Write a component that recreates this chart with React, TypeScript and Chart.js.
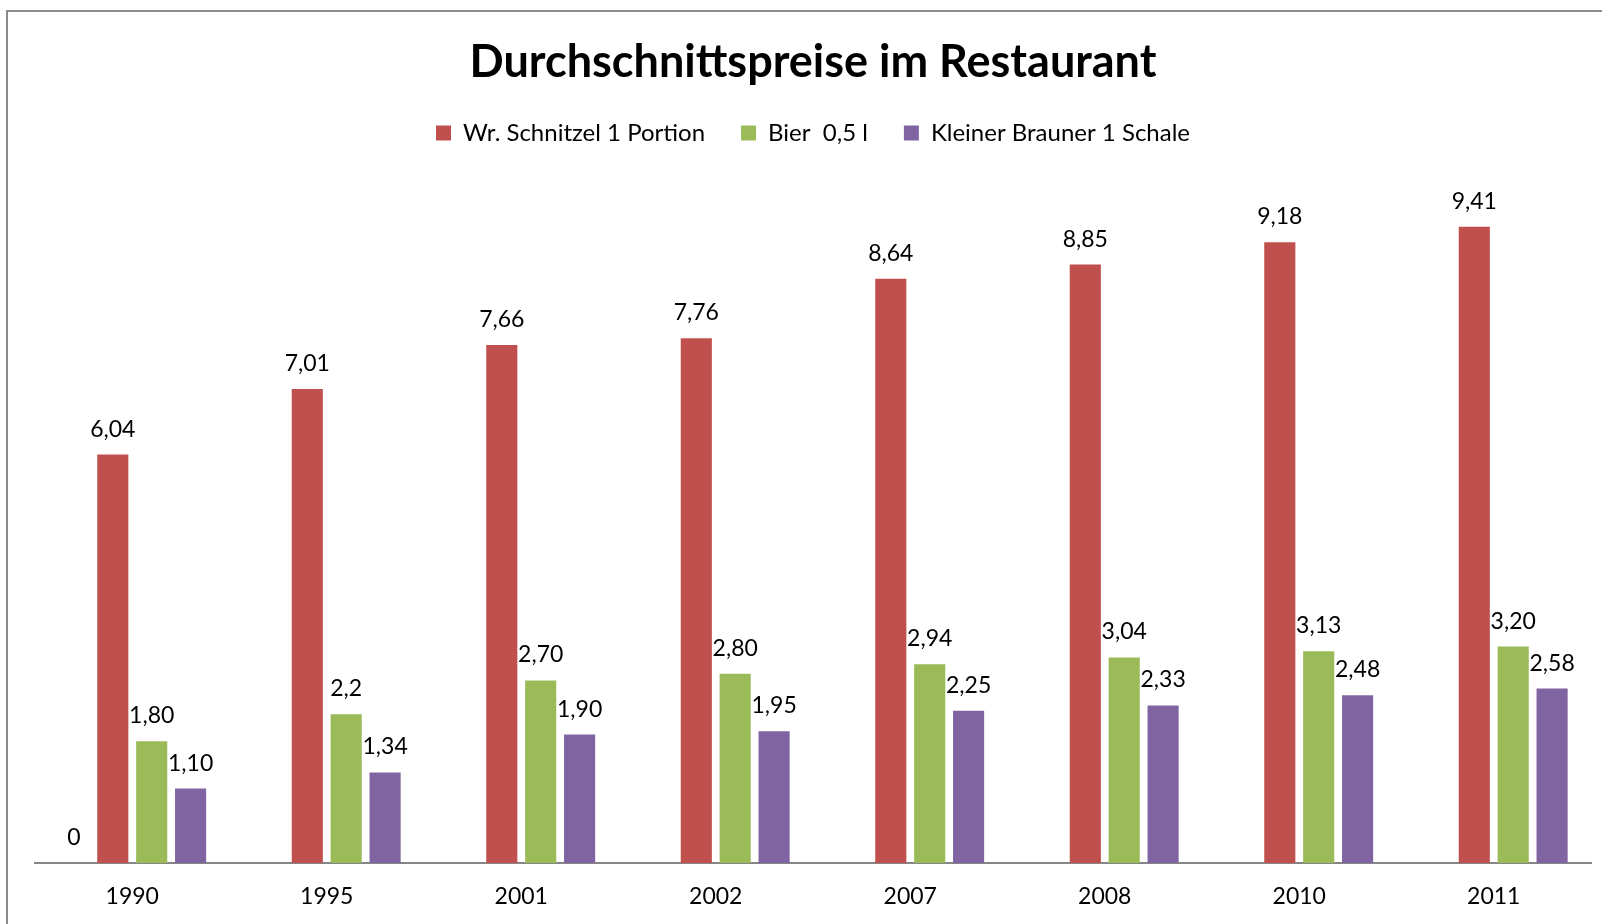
import React, { useEffect, useRef } from "react";
import { Chart, registerables } from "chart.js";

Chart.register(...registerables);

const years = ["1990", "1995", "2001", "2002", "2007", "2008", "2010", "2011"];
const zeroSeries = [0, null, null, null, null, null, null, null];
const schnitzel = [6.04, 7.01, 7.66, 7.76, 8.64, 8.85, 9.18, 9.41];
const bier = [1.8, 2.2, 2.7, 2.8, 2.94, 3.04, 3.13, 3.2];
const brauner = [1.1, 1.34, 1.9, 1.95, 2.25, 2.33, 2.48, 2.58];
const schnitzelLabels = ["6,04", "7,01", "7,66", "7,76", "8,64", "8,85", "9,18", "9,41"];
const bierLabels = ["1,80", "2,2", "2,70", "2,80", "2,94", "3,04", "3,13", "3,20"];
const braunerLabels = ["1,10", "1,34", "1,90", "1,95", "2,25", "2,33", "2,48", "2,58"];
const zeroLabels = ["0", "", "", "", "", "", "", ""];

const seriesNames = ["", "Wr. Schnitzel 1 Portion", "Bier  0,5 l", "Kleiner Brauner 1 Schale"];
const colors = ["#ffffff", "#C0504D", "#9BBB59", "#8064A2"];

const FONT = "Lato, 'Open Sans', sans-serif";

const frame = {
  id: "frame",
  beforeDraw(chart: any) {
    const ctx = chart.ctx;
    ctx.save();
    ctx.fillStyle = "#ffffff";
    ctx.fillRect(0, 0, chart.width, chart.height);
    ctx.strokeStyle = "#8c8c8c";
    ctx.lineWidth = 2;
    ctx.beginPath();
    ctx.moveTo(7, chart.height);
    ctx.lineTo(7, 11);
    ctx.lineTo(chart.width, 11);
    ctx.stroke();
    ctx.restore();
  },
};

const valueLabels = {
  id: "valueLabels",
  afterDatasetsDraw(chart: any) {
    const ctx = chart.ctx;
    const allLabels = [zeroLabels, schnitzelLabels, bierLabels, braunerLabels];
    ctx.save();
    ctx.font = `23px ${FONT}`;
    ctx.fillStyle = "#000000";
    ctx.textAlign = "center";
    ctx.textBaseline = "alphabetic";
    chart.data.datasets.forEach((ds: any, di: number) => {
      const meta = chart.getDatasetMeta(di);
      meta.data.forEach((bar: any, i: number) => {
        const v = ds.data[i];
        const txt = allLabels[di][i];
        if (v === null || v === undefined || !txt) return;
        ctx.fillText(txt, bar.x, bar.y - 18);
      });
    });
    ctx.restore();
  },
};

export default function App() {
  const ref = useRef<HTMLCanvasElement>(null);
  useEffect(() => {
    if (!ref.current) return;
    const chart = new Chart(ref.current, {
      type: "bar",
      data: {
        labels: years,
        datasets: [zeroSeries, schnitzel, bier, brauner].map((d, i) => ({
          label: seriesNames[i],
          data: d as any,
          backgroundColor: colors[i],
          borderWidth: 0,
          categoryPercentage: 0.8,
          barPercentage: 0.8,
        })),
      },
      options: {
        responsive: false,
        animation: false,
        layout: { padding: { top: 0, left: 35, right: 11, bottom: 0 } },
        plugins: {
          tooltip: { enabled: false },
          title: {
            display: true,
            text: "Durchschnittspreise im Restaurant",
            color: "#000000",
            font: { family: FONT, size: 45, weight: "bold", lineHeight: "34px" },
            padding: { top: 45, bottom: 6 },
          },
          legend: {
            display: true,
            position: "top",
            labels: {
              filter: (item: any) => item.text !== "",
              boxWidth: 15,
              boxHeight: 15,
              padding: 36,
              color: "#000000",
              font: { family: FONT, size: 24 },
            },
          },
        },
        scales: {
          x: {
            grid: { display: false, drawTicks: false, tickLength: 0 },
            border: { display: true, color: "#868686", width: 2 },
            ticks: {
              color: "#000000",
              font: { family: FONT, size: 23, lineHeight: 1.2 },
              padding: 20,
              maxRotation: 0,
            },
            afterFit: (scale: any) => {
              scale.height = 61;
            },
          },
          y: {
            display: false,
            min: 0,
            max: 10.47,
            grid: { display: false },
          },
        },
      },
      plugins: [frame, valueLabels],
    });
    return () => chart.destroy();
  }, []);
  return (
    <canvas
      ref={ref}
      width={1602}
      height={924}
      style={{ position: "fixed", left: 0, top: 0, width: 1602, height: 924, display: "block" }}
    />
  );
}
